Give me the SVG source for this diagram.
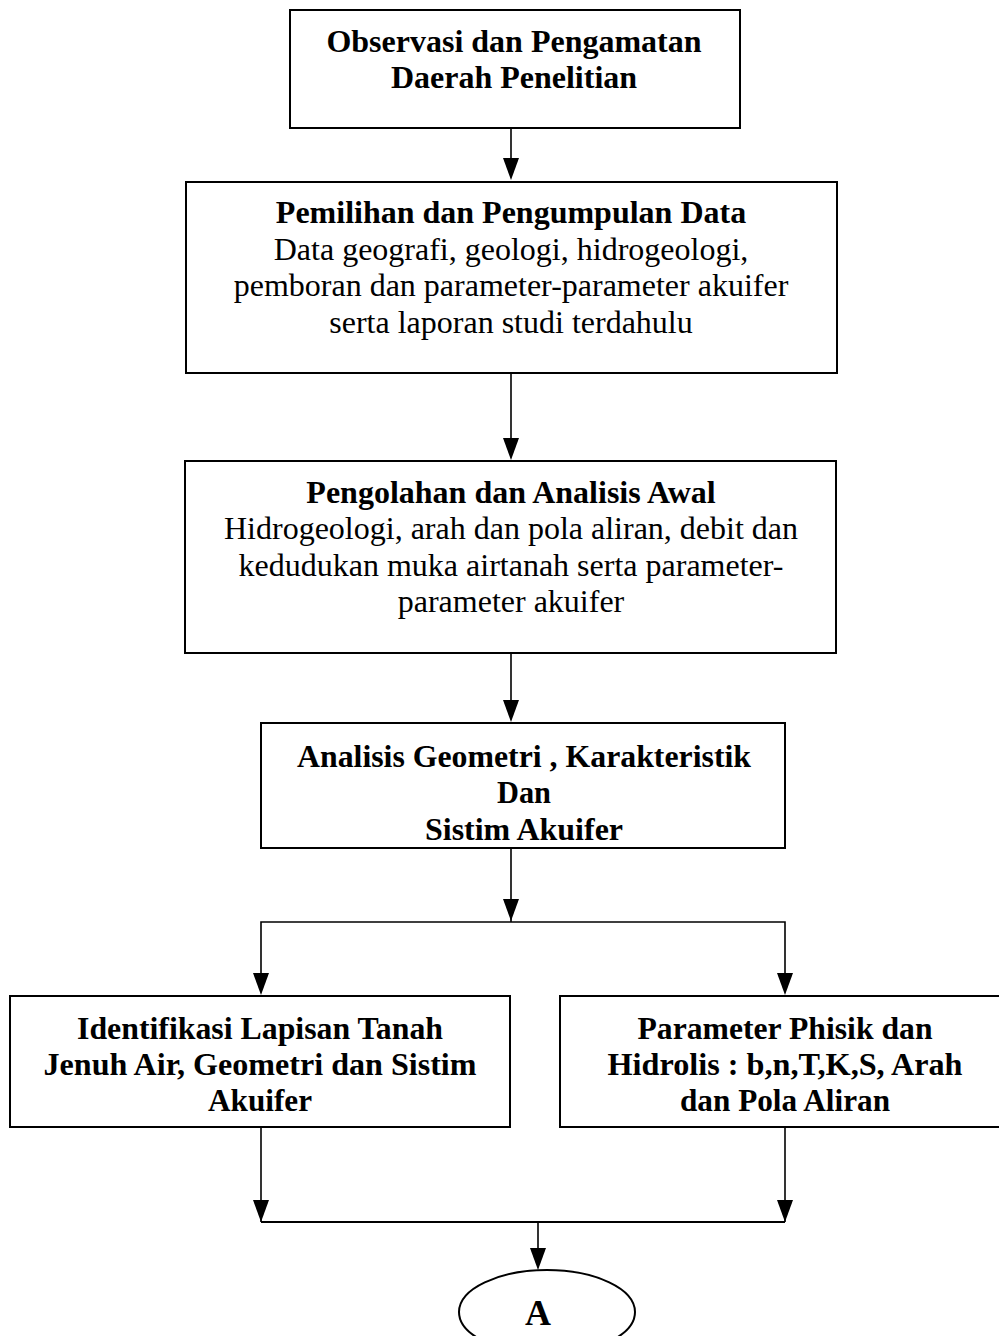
<svg xmlns="http://www.w3.org/2000/svg" width="999" height="1336" viewBox="0 0 999 1336">
<style>
.box{fill:#fff;stroke:#000;stroke-width:2}
.t{font-family:"Liberation Serif","Times New Roman",serif;font-size:32px;fill:#000;text-anchor:middle}
.b{font-weight:bold}
.c{stroke:#000;stroke-width:1.6;fill:none}
</style>
<rect width="999" height="1336" fill="#fff"/>
<g id="connectors">
<line class="c" x1="511" y1="128" x2="511" y2="165"/>
<line class="c" x1="511" y1="373" x2="511" y2="445"/>
<line class="c" x1="511" y1="653" x2="511" y2="705"/>
<line class="c" x1="511" y1="848" x2="511" y2="922"/>
<polyline class="c" points="261,980 261,922 785,922 785,980"/>
<line class="c" x1="261" y1="1127" x2="261" y2="1222"/>
<line class="c" x1="785" y1="1127" x2="785" y2="1222"/>
<line class="c" x1="261" y1="1222" x2="785" y2="1222" style="stroke-width:2.2"/>
<line class="c" x1="538" y1="1222" x2="538" y2="1255"/>
<g fill="#000">
<path d="M503,158 L519,158 L511,180 Z"/>
<path d="M503,438 L519,438 L511,460 Z"/>
<path d="M503,700 L519,700 L511,722 Z"/>
<path d="M503,899 L519,899 L511,921 Z"/>
<path d="M253,973 L269,973 L261,995 Z"/>
<path d="M777,973 L793,973 L785,995 Z"/>
<path d="M253,1200 L269,1200 L261,1222 Z"/>
<path d="M777,1200 L793,1200 L785,1222 Z"/>
<path d="M530,1248 L546,1248 L538,1270 Z"/>
</g>
</g>
<g id="n1">
<rect class="box" x="290" y="10" width="450" height="118"/>
<text class="t b" x="514" y="52">Observasi dan Pengamatan</text>
<text class="t b" x="514" y="88">Daerah Penelitian</text>
</g>
<g id="n2">
<rect class="box" x="186" y="182" width="651" height="191"/>
<text class="t b" x="511" y="223">Pemilihan dan Pengumpulan Data</text>
<text class="t" x="511" y="260">Data geografi, geologi, hidrogeologi,</text>
<text class="t" x="511" y="296">pemboran dan parameter-parameter akuifer</text>
<text class="t" x="511" y="333">serta laporan studi terdahulu</text>
</g>
<g id="n3">
<rect class="box" x="185" y="461" width="651" height="192"/>
<text class="t b" x="511" y="503">Pengolahan dan Analisis Awal</text>
<text class="t" x="511" y="539">Hidrogeologi, arah dan pola aliran, debit dan</text>
<text class="t" x="511" y="576">kedudukan muka airtanah serta parameter-</text>
<text class="t" x="511" y="612">parameter akuifer</text>
</g>
<g id="n4">
<rect class="box" x="261" y="723" width="524" height="125"/>
<text class="t b" x="524" y="767" textLength="454" lengthAdjust="spacingAndGlyphs">Analisis Geometri , Karakteristik</text>
<text class="t b" x="524" y="803" textLength="54" lengthAdjust="spacingAndGlyphs">Dan</text>
<text class="t b" x="524" y="840" textLength="198" lengthAdjust="spacingAndGlyphs">Sistim Akuifer</text>
</g>
<g id="n5">
<rect class="box" x="10" y="996" width="500" height="131"/>
<text class="t b" x="260" y="1039" textLength="366" lengthAdjust="spacingAndGlyphs">Identifikasi Lapisan Tanah</text>
<text class="t b" x="260" y="1075" textLength="433" lengthAdjust="spacingAndGlyphs">Jenuh Air, Geometri dan Sistim</text>
<text class="t b" x="260" y="1111" textLength="104" lengthAdjust="spacingAndGlyphs">Akuifer</text>
</g>
<g id="n6">
<rect class="box" x="560" y="996" width="445" height="131"/>
<text class="t b" x="785" y="1039" textLength="295" lengthAdjust="spacingAndGlyphs">Parameter Phisik dan</text>
<text class="t b" x="785" y="1075" textLength="355" lengthAdjust="spacingAndGlyphs">Hidrolis : b,n,T,K,S, Arah</text>
<text class="t b" x="785" y="1111" textLength="210" lengthAdjust="spacingAndGlyphs">dan Pola Aliran</text>
</g>
<g id="nA">
<ellipse cx="547" cy="1312" rx="88" ry="42" fill="#fff" stroke="#000" stroke-width="2"/>
<text class="t b" x="538" y="1325" style="font-size:36px">A</text>
</g>
</svg>
